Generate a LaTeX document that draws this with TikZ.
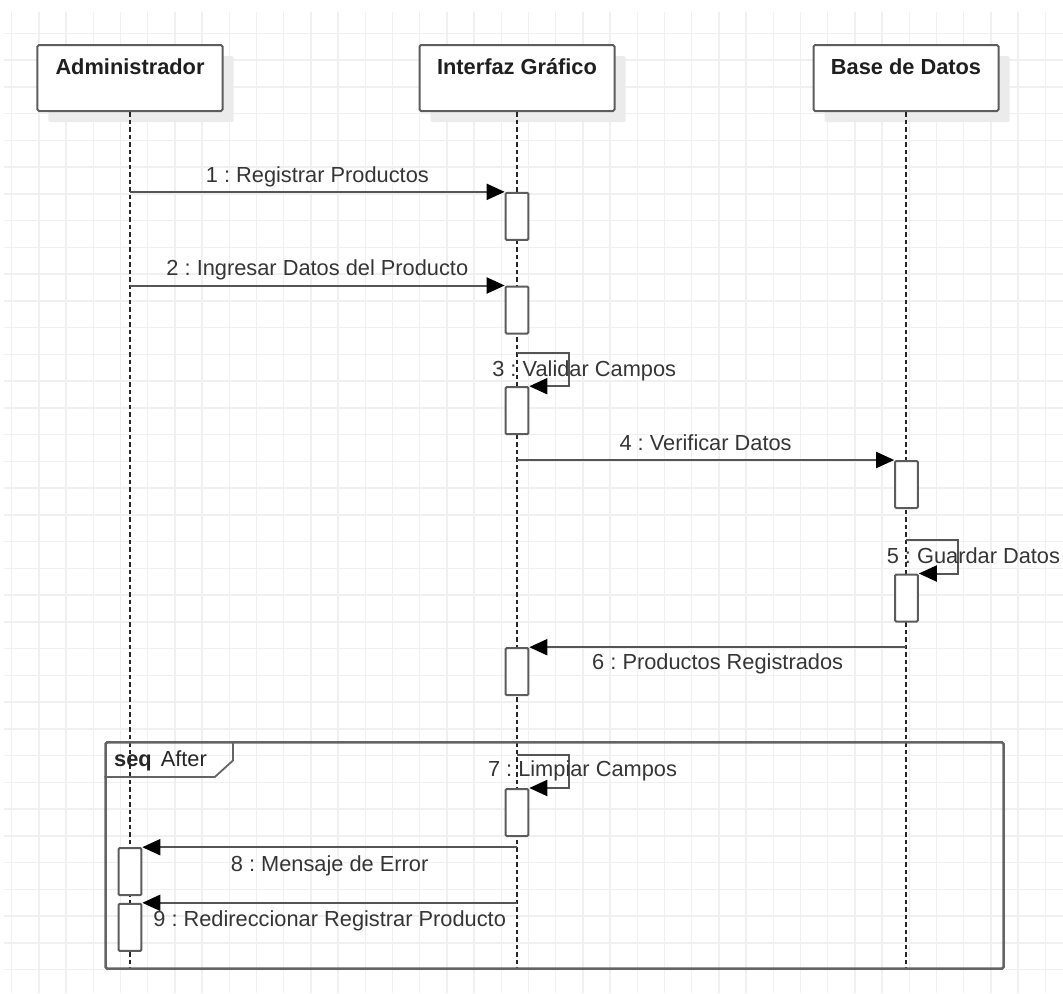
\documentclass[tikz,border=0pt]{standalone}
\usepackage{fontspec}
\setmainfont{Liberation Sans}
\usetikzlibrary{arrows.meta,shadows}
\definecolor{gridc}{HTML}{F0F0F0}
\definecolor{edgec}{HTML}{5C5C5C}
\definecolor{msgc}{HTML}{555555}
\definecolor{txtc}{HTML}{353535}
\definecolor{shadowc}{HTML}{EBEBEB}
\newcommand{\lblfont}{\fontsize{21.8bp}{26bp}\selectfont}
\frenchspacing
\begin{document}
\begin{tikzpicture}[x=1bp,y=-1bp,
  gridline/.style={draw=gridc, line width=1.4bp},
  participant/.style={rectangle, draw=edgec, line width=2bp, fill=white,
    rounded corners=1.5bp, minimum height=66bp, inner xsep=0bp, inner ysep=13.3bp,
    text height=15.7bp, text depth=23.7bp, text=black!88,
    font=\bfseries\lblfont,
    drop shadow={shadow xshift=11bp, shadow yshift=-11bp, fill=shadowc, opacity=1}},
  lifeline/.style={draw=black!85, line width=1.6bp, dash pattern=on 4.5bp off 3bp},
  activation/.style={rectangle, draw=edgec, line width=2bp, fill=white,
    rounded corners=1bp, minimum width=22.6bp, minimum height=47bp, inner sep=0bp},
  msg/.style={draw=msgc, line width=2bp, -{Triangle[length=18bp,width=16bp,black]}},
  msglabel/.style={text=txtc, font=\lblfont, inner sep=0bp, anchor=base},
  framebox/.style={rectangle, draw=edgec!95, line width=2.5bp, rounded corners=1.5bp,
    inner sep=0bp},
  tabline/.style={draw=edgec!95, line width=1.8bp, line join=round}
]
\useasboundingbox (0,0) rectangle (1063,994);

% background grid
\foreach \k in {0,...,38} {
  \draw[gridline] (11.7+27.2*\k,12) -- (11.7+27.2*\k,993);
}
\foreach \k in {0,...,35} {
  \draw[gridline] (4,33.3+26.75*\k) -- (1063,33.3+26.75*\k);
}

% participants
\node[participant, minimum width=185bp] (admin) at (130,78) {Administrador};
\node[participant, minimum width=195bp] (gui) at (517,78) {Interfaz Gráfico};
\node[participant, minimum width=185bp] (db) at (906,78) {Base de Datos};

% lifeline ends
\coordinate (adminend) at (130,970);
\coordinate (guiend) at (517,970);
\coordinate (dbend) at (906,970);

\draw[lifeline] (admin.south) -- (adminend);
\draw[lifeline] (gui.south) -- (guiend);
\draw[lifeline] (db.south) -- (dbend);

% combined fragment
\node[framebox, minimum width=897.8bp, minimum height=226.4bp] (frame) at (554.6,855.5) {};
\draw[tabline] (frame.north west) ++(128.6,0) -- ++(0,19.4) -- ++(-18.3,16.6) -- ++(-110.3,0);
\node[text=black!85, font=\lblfont, inner sep=0bp, anchor=base west] (seqlbl) at (114,766.7)
  {\textbf{seq}\hspace{9bp}After};

% activations
\node[activation] (g1) at (517,216.35) {};
\node[activation] (g2) at (517,310) {};
\node[activation] (g3) at (517,410.7) {};
\node[activation] (d1) at (906.5,484.5) {};
\node[activation] (d2) at (906.5,598) {};
\node[activation] (g4) at (517,671.7) {};
\node[activation] (g5) at (517,812.5) {};
\node[activation] (a1) at (130,871.7) {};
\node[activation] (a2) at (130,927.3) {};

% self-call starting points
\coordinate (s3) at (517,353.3);
\coordinate (s5) at (906,540);
\coordinate (s7) at (517,755);

% messages
\draw[msg] (admin |- g1.north west) -- (g1.north west)
  node[msglabel, midway, yshift=9.4bp] (m1) {1 : Registrar Productos};
\draw[msg] (admin |- g2.north west) -- (g2.north west)
  node[msglabel, midway, yshift=10bp] (m2) {2 : Ingresar Datos del Producto};
\draw[msg] (s3) -- ++(52,0) |- (g3.north east);
\node[msglabel] (m3) at (584.2,376.7) {3 : Validar Campos};
\draw[msg] (gui |- d1.north west) -- (d1.north west)
  node[msglabel, midway, yshift=10bp] (m4) {4 : Verificar Datos};
\draw[msg] (s5) -- ++(52,0) |- (d2.north east);
\node[msglabel] (m5) at (973.4,563.3) {5 : Guardar Datos};
\draw[msg] (db |- g4.north east) -- (g4.north east)
  node[msglabel, midway, yshift=-22.5bp] (m6) {6 : Productos Registrados};
\draw[msg] (s7) -- ++(52,0) |- (g5.north east);
\node[msglabel] (m7) at (582.5,776) {7 : Limpiar Campos};
\draw[msg] (gui |- a1.north east) -- (a1.north east)
  node[msglabel, midway, yshift=-24.4bp] (m8) {8 : Mensaje de Error};
\draw[msg] (gui |- a2.north east) -- (a2.north east)
  node[msglabel, midway, yshift=-23.3bp] (m9) {9 : Redireccionar Registrar Producto};
\end{tikzpicture}
\end{document}
